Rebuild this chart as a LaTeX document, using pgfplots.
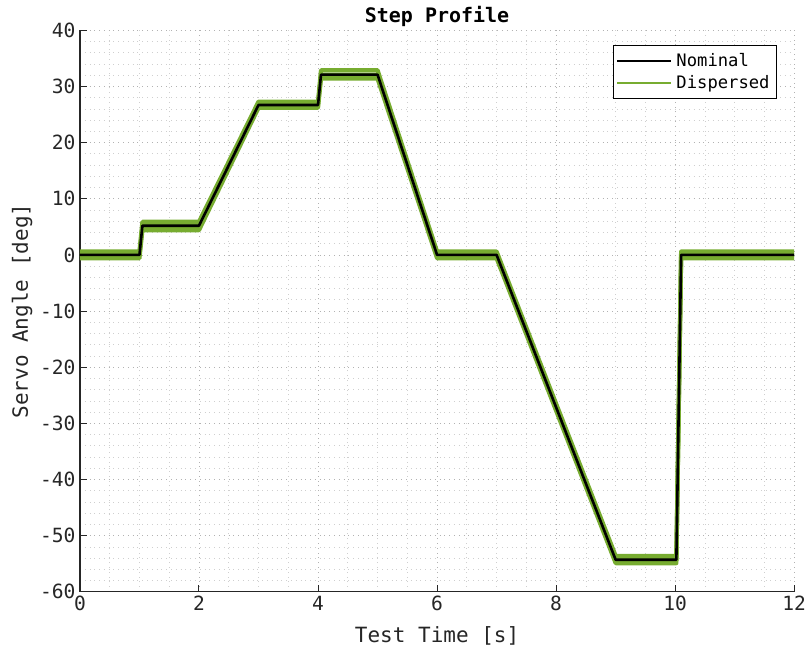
\documentclass[border=0pt]{standalone}
\usepackage{fontspec}
\setmainfont{DejaVu Sans Mono}
\usepackage{pgfplots}
\pgfplotsset{compat=1.18}
\definecolor{mgreen}{RGB}{119,172,48}
\definecolor{axgray}{RGB}{38,38,38}
\begin{document}
\begin{tikzpicture}
\begin{axis}[
  name=ax,
  scale only axis,
  width=357.5pt, height=281pt,
  xmin=0, xmax=12, ymin=-60, ymax=40,
  xtick={0,2,...,12}, ytick={-60,-50,...,40},
  minor x tick num=3, minor y tick num=4,
  axis x line*=bottom, axis y line*=left,
  axis line style={-, draw=axgray, line width=0.6pt},
  tick align=inside,
  major tick length=3.5pt, minor tick length=0pt,
  tick style={axgray, line width=0.5pt},
  grid=both,
  major grid style={dotted, gray!60, line width=0.4pt},
  minor grid style={dotted, gray!38, line width=0.35pt},
  /pgf/number format/assume math mode=true,
  ticklabel style={font=\fontsize{9.8}{11}\selectfont, text=axgray, inner sep=2pt},
  xlabel={Test Time [s]}, ylabel={Servo Angle [deg]},
  xlabel style={at={(axis description cs:0.5,-0.078)}, anchor=center, font=\fontsize{10.5}{12}\selectfont, text=axgray},
  ylabel style={at={(axis description cs:-0.081,0.5)}, anchor=center, font=\fontsize{10.5}{12}\selectfont, text=axgray},
  title={Step Profile},
  every axis title/.style={at={(axis description cs:0.5,1.024)}, anchor=center, font=\fontsize{10}{11}\selectfont\bfseries},
  legend style={at={(0.976,0.973)}, anchor=north east, draw=black, line width=0.5pt,
    font=\fontsize{8.6}{10}\selectfont, inner sep=1.5pt, row sep=-1pt},
  legend cell align=left,
  legend image code/.code={\draw[#1] (0cm,0cm) -- (0.95cm,0cm);},
]
% Dispersed runs
\addplot[mgreen, line width=2.1pt, line join=round, forget plot] coordinates {
(0,0.6) (1.0,0.6) (1.05,5.9) (2.0,5.9) (3.0,27.3) (4.0,27.3) (4.05,32.9) (5.0,32.9)
(6.0,0.6) (7.0,0.6) (9.0,-53.6) (10.02,-53.6) (10.1,0.6) (12,0.6)};
\addplot[mgreen, line width=2.1pt, line join=round, forget plot] coordinates {
(0,-0.6) (1.0,-0.6) (1.05,4.4) (2.0,4.4) (3.0,26.2) (4.0,26.2) (4.05,31.4) (5.0,31.4)
(6.0,-0.6) (7.0,-0.6) (9.0,-54.9) (10.02,-54.9) (10.1,-0.6) (12,-0.6)};
\addplot[mgreen, line width=2.1pt, line join=round, forget plot] coordinates {
(0,0) (1.0,0) (1.05,5.2) (2.0,5.2) (3.0,26.7) (4.0,26.7) (4.05,32.1) (5.0,32.1)
(6.0,0) (7.0,0) (9.0,-54.3) (10.02,-54.3) (10.1,0) (12,0)};
% Nominal
\addplot[black, line width=1.3pt, line join=round, forget plot] coordinates {
(0,0) (1.0,0) (1.05,5.2) (2.0,5.2) (3.0,26.7) (4.0,26.7) (4.05,32.1) (5.0,32.1)
(6.0,0) (7.0,0) (9.0,-54.3) (10.02,-54.3) (10.1,0) (12,0)};
\addlegendimage{black, line width=1pt}
\addlegendentry{Nominal}
\addlegendimage{mgreen, line width=1pt}
\addlegendentry{Dispersed}
\end{axis}
\path (ax.south west) -- ++(-40pt,-31.5pt);
\path (ax.north east) -- ++(7.5pt,15pt);
\end{tikzpicture}
\end{document}
